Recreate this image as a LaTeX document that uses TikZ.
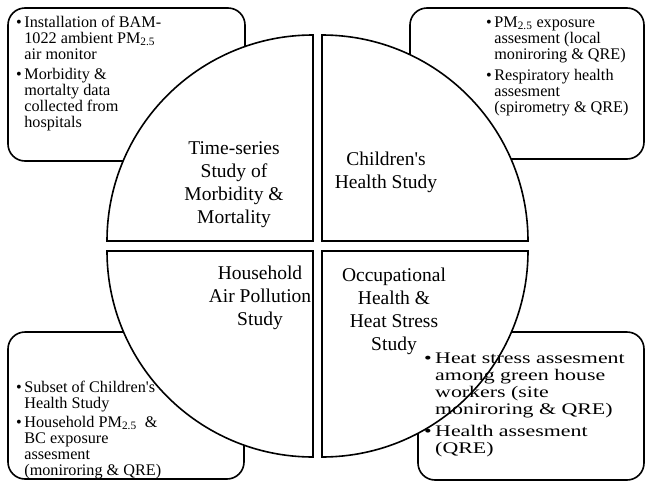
\documentclass[tikz,border=0pt]{standalone}
\usepackage{fontspec}
\setmainfont{Liberation Serif}
\newcommand{\apo}{\textquotesingle}
\begin{document}
\begin{tikzpicture}[x=1pt,y=-1pt,
  quad/.style={draw=black,line width=1.6pt,fill=white},
  infobox/.style={draw=black,line width=1.6pt,rounded corners=17pt,fill=white},
  qtext/.style={align=center,inner sep=0pt,font=\fontsize{19.5}{23}\selectfont},
  btext/.style={anchor=base west,inner sep=0pt,font=\fontsize{16.2}{16}\selectfont}]
\useasboundingbox (0,0) rectangle (646,485);
\fill[white] (0,0) rectangle (646,485);
% boxes
\draw[infobox] (8,8) rectangle (245,161);
\draw[infobox] (410,8) rectangle (644,159);
\draw[infobox] (8,332) rectangle (244,479);
\draw[infobox] (418,332) rectangle (644,480);
% quadrants
\draw[quad] (313,241) -- (107,241) arc[start angle=180,end angle=270,radius=206] -- cycle;
\draw[quad] (322,241) -- (322,35) arc[start angle=270,end angle=360,radius=206] -- cycle;
\draw[quad] (313,251) -- (313,457) arc[start angle=90,end angle=180,radius=206] -- cycle;
\draw[quad] (322,251) -- (528,251) arc[start angle=0,end angle=90,radius=206] -- cycle;
% box texts
\node[btext] (t1) at (16,27) {\begin{tabular}[t]{@{}l@{\hspace{2.5pt}}l@{}}
\textbullet & Installation of BAM-\\
 & 1022 ambient PM\textsubscript{2.5}\\
 & air monitor\\[4pt]
\textbullet & Morbidity \&\\
 & mortalty data\\
 & collected from\\
 & hospitals
\end{tabular}};
\node[btext] (t2) at (486,27) {\begin{tabular}[t]{@{}l@{\hspace{2.5pt}}l@{}}
\textbullet & PM\textsubscript{2.5} exposure\\
 & assesment (local\\
 & moniroring \& QRE)\\[5pt]
\textbullet & Respiratory health\\
 & assesment\\
 & (spirometry \& QRE)
\end{tabular}};
\node[btext] (t3) at (16,392) {\begin{tabular}[t]{@{}l@{\hspace{2.5pt}}l@{}}
\textbullet & Subset of Children\apo s\\
 & Health Study\\[3pt]
\textbullet & Household PM\textsubscript{2.5}\ \ \&\\
 & BC exposure\\
 & assesment\\
 & (moniroring \& QRE)
\end{tabular}};
\node[btext,font=\fontsize{16.2}{17}\selectfont] (t4) at (424,363) {\scalebox{1.35}[1]{\begin{tabular}[t]{@{}l@{\hspace{2.5pt}}l@{}}
\textbullet & Heat stress assesment\\
 & among green house\\
 & workers (site\\
 & moniroring \& QRE)\\[5pt]
\textbullet & Health assesment\\
 & (QRE)
\end{tabular}}};
% quadrant texts
\node[qtext] (q1) at (234,185) {Time-series\\Study of\\Morbidity \&\\Mortality};
\node[qtext] (q2) at (386,172) {Children\apo s\\Health Study};
\node[qtext] (q3) at (260,298) {Household\\Air Pollution\\Study};
\node[qtext] (q4) at (394,311) {Occupational\\Health \&\\Heat Stress\\Study};
\end{tikzpicture}
\end{document}
